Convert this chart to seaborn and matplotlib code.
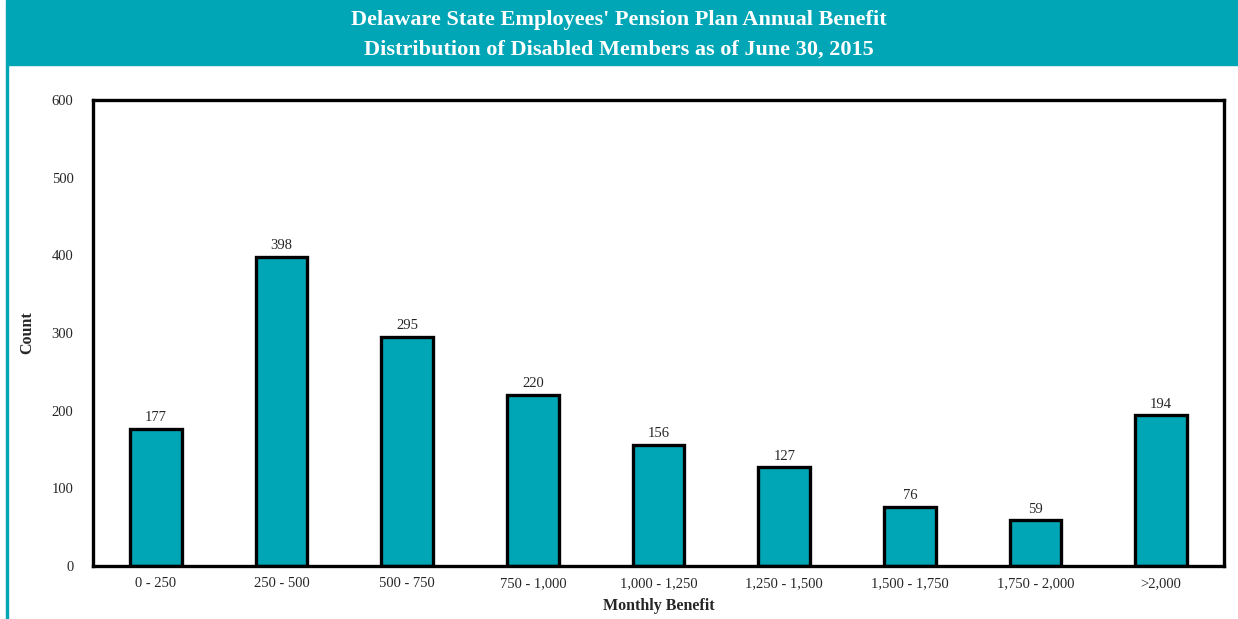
import matplotlib
matplotlib.use('Agg')
import matplotlib.pyplot as plt
import seaborn as sns
import pandas as pd
from matplotlib.patches import Rectangle

categories = ['0 - 250', '250 - 500', '500 - 750', '750 - 1,000', '1,000 - 1,250',
              '1,250 - 1,500', '1,500 - 1,750', '1,750 - 2,000', '>2,000']
counts = [177, 398, 295, 220, 156, 127, 76, 59, 194]
y_ticks = [0, 100, 200, 300, 400, 500, 600]

TEAL = '#00A6B6'

sns.set_style('white')
plt.rcParams['font.family'] = ['Liberation Serif', 'DejaVu Serif']

df = pd.DataFrame({'benefit': categories, 'count': counts})

fig = plt.figure(figsize=(12.38, 6.19), dpi=100)
ax = fig.add_axes([93 / 1238, 1 - 566 / 619, (1224 - 93) / 1238, (566 - 100) / 619])

# header band and left border line
fig.patches.append(Rectangle((6 / 1238, 1 - 65 / 619), 1 - 6 / 1238, 65 / 619,
                             transform=fig.transFigure, color=TEAL, zorder=0))
fig.patches.append(Rectangle((6 / 1238, 0), 2 / 1238, 1 - 65 / 619,
                             transform=fig.transFigure, color=TEAL, zorder=0))
fig.text(0.5, 1 - 20 / 619, "Delaware State Employees' Pension Plan Annual Benefit",
         ha='center', va='center', color='white', fontsize=16, fontweight='bold')
fig.text(0.5, 1 - 50 / 619, "Distribution of Disabled Members as of June 30, 2015",
         ha='center', va='center', color='white', fontsize=16, fontweight='bold')

sns.barplot(data=df, x='benefit', y='count', color=TEAL, saturation=1,
            width=0.41, edgecolor='black', linewidth=2.4, ax=ax)

for i, v in enumerate(counts):
    ax.text(i, v + 6, str(v), ha='center', va='bottom', fontsize=10.5)

ax.set_ylim(0, 600)
ax.set_yticks(y_ticks)
ax.tick_params(axis='both', length=0, labelsize=10.5)
ax.tick_params(axis='x', pad=8)
ax.tick_params(axis='y', pad=14)
ax.set_xlabel('Monthly Benefit', fontsize=11.5, fontweight='bold', labelpad=6)
ax.set_ylabel('Count', fontsize=11.5, fontweight='bold')
ax.yaxis.set_label_coords(-58 / 1131, 0.5)
for s in ax.spines.values():
    s.set_visible(True)
    s.set_color('black')
    s.set_linewidth(2.4)

fig.savefig('out.png', dpi=100)
